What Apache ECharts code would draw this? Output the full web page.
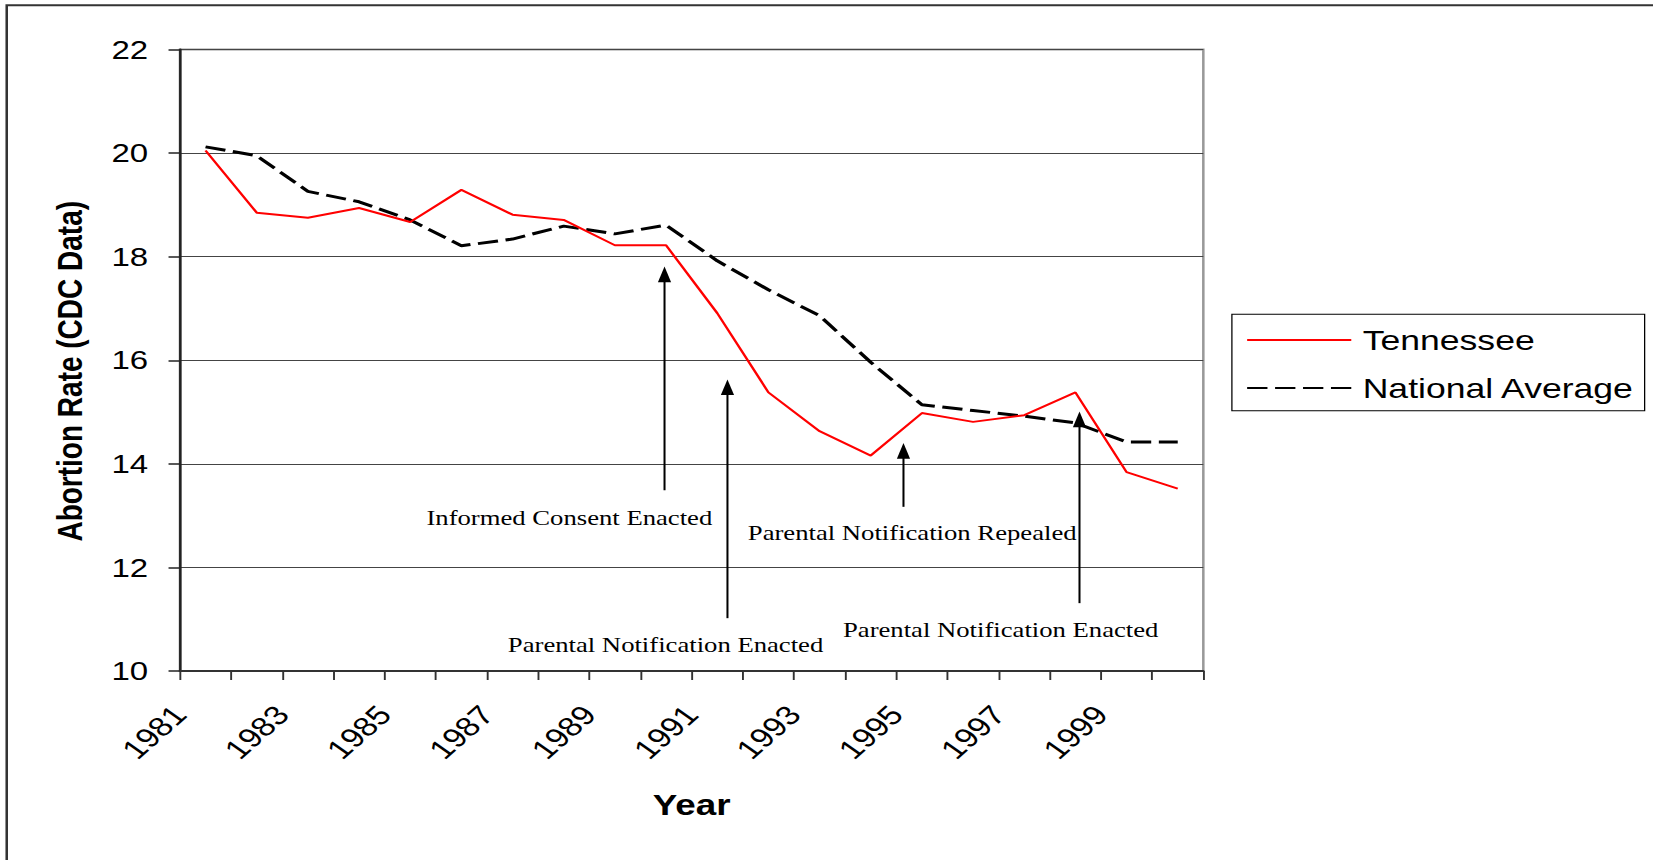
<!DOCTYPE html>
<html>
<head>
<meta charset="utf-8">
<script src="https://cdn.jsdelivr.net/npm/echarts@6/dist/echarts.min.js"></script>
<style>
  html, body { margin: 0; padding: 0; background: #fff; overflow: hidden; }
  #chart { width: 1302px; height: 860px; transform: scaleX(1.27); transform-origin: 0 0; }
</style>
</head>
<body>
<div id="chart"></div>
<script>
// ---- data ----
const years = ['1981','1982','1983','1984','1985','1986','1987','1988','1989','1990',
               '1991','1992','1993','1994','1995','1996','1997','1998','1999','2000'];
const tennessee = [20.05, 18.85, 18.75, 18.94, 18.67, 19.29, 18.81, 18.71, 18.22, 18.22,
                   16.91, 15.38, 14.63, 14.16, 14.98, 14.81, 14.94, 15.38, 13.84, 13.52];
const national  = [20.12, 19.95, 19.26, 19.06, 18.71, 18.21, 18.34, 18.59, 18.44, 18.61,
                   17.92, 17.36, 16.86, 15.96, 15.14, 15.03, 14.92, 14.79, 14.42, 14.42];
const xTickLabels = ['1981','1983','1985','1987','1989','1991','1993','1995','1997','1999'];
const yTicks = [10, 12, 14, 16, 18, 20, 22];

// annotation arrows (position along the year axis, tail value, tip value)
const arrowX    = [9.47, 10.70, 14.14, 17.58];
const arrowTail = [13.49, 11.02, 13.17, 11.31];
const arrowTip  = [17.81, 15.63, 14.40, 15.01];

// annotation texts
const annotText = ['Informed Consent Enacted', 'Parental Notification Enacted',
                   'Parental Notification Repealed', 'Parental Notification Enacted'];
const annotX = [7.61, 9.49, 14.31, 16.04];
const annotY = [12.96, 10.50, 12.66, 10.80];

const chart = echarts.init(document.getElementById('chart'), null, { renderer: 'svg' });
const sans = '"Liberation Sans", Arial, sans-serif';
const serif = '"Liberation Serif", "Times New Roman", serif';

chart.setOption({
  animation: false,
  backgroundColor: '#fff',
  graphic: [{
    type: 'rect', silent: true,
    shape: { x: 5.3, y: 5.3, width: 3000, height: 3000 },
    style: { fill: 'none', stroke: '#333', lineWidth: 2 }
  }],
  grid: {
    left: 141.7, top: 49.5, width: 805.8, height: 621.5,
    show: true, borderColor: '#999', borderWidth: 2, backgroundColor: 'transparent'
  },
  legend: {
    data: ['Tennessee', 'National Average'],
    orient: 'vertical',
    left: 970, top: 314.3,
    padding: [11.7, 7.7, 8.7, 11],
    itemWidth: 82, itemHeight: 20, itemGap: 20,
    itemStyle: { opacity: 0 },
    borderColor: '#000', borderWidth: 1,
    textStyle: { fontSize: 28, fontFamily: sans, color: '#000', lineHeight: 28, padding: [0, 0, 0, 4] }
  },
  xAxis: [
    {
      type: 'value', position: 'bottom', gridIndex: 0,
      min: 0, max: 20, interval: 1,
      axisLine: { show: true, lineStyle: { color: '#333', width: 2 } },
      axisTick: { show: true, length: 9, lineStyle: { color: '#333', width: 1.5 } },
      splitLine: { show: false },
      axisLabel: {
        rotate: 48, margin: 39, fontSize: 27, fontFamily: sans, color: '#000',
        formatter: v => (v % 2 === 0 && v / 2 < xTickLabels.length) ? xTickLabels[v / 2] : ''
      },
      name: 'Year', nameLocation: 'middle', nameGap: 119,
      nameTextStyle: { fontSize: 29, fontWeight: 'bold', fontFamily: sans, color: '#000' }
    },
    {
      type: 'category', position: 'bottom', gridIndex: 0,
      data: years, boundaryGap: true, show: false
    }
  ],
  yAxis: {
    type: 'value', min: 10, max: 22, interval: 2,
    axisLine: { show: true, lineStyle: { color: '#222', width: 2 } },
    axisTick: { show: true, length: 9, lineStyle: { color: '#222', width: 1.5 } },
    splitLine: { show: true, lineStyle: { color: '#444', width: 1 } },
    axisLabel: { margin: 25, fontSize: 26, fontFamily: sans, color: '#000' },
    name: 'Abortion Rate (CDC Data)', nameLocation: 'middle', nameRotate: 90, nameGap: 73,
    nameTextStyle: { fontSize: 28, fontWeight: 'bold', fontFamily: sans, color: '#000', padding: [0, 22, 0, 0] }
  },
  series: [
    {
      name: 'Tennessee', type: 'line', xAxisIndex: 1, yAxisIndex: 0,
      data: tennessee, symbol: 'none', z: 3,
      lineStyle: { color: '#ff0000', width: 2 },
      itemStyle: { color: '#ff0000' }
    },
    {
      name: 'National Average', type: 'line', xAxisIndex: 1, yAxisIndex: 0,
      data: national, symbol: 'none', z: 2,
      lineStyle: { color: '#000', width: 3, type: [16, 6] },
      itemStyle: { color: '#000' }
    },
    {
      name: 'arrows', type: 'custom', xAxisIndex: 0, yAxisIndex: 0, z: 4,
      data: arrowX.map((x, i) => [x, arrowTail[i], arrowTip[i]]),
      encode: { x: 0, y: [1, 2] },
      renderItem: (params, api) => {
        const x = api.value(0);
        const pTail = api.coord([x, api.value(1)]);
        const pTip = api.coord([x, api.value(2)]);
        const hw = 5.2, hh = 15.7;
        return {
          type: 'group',
          children: [
            { type: 'line', shape: { x1: pTail[0], y1: pTail[1], x2: pTip[0], y2: pTip[1] + hh - 1 },
              style: { stroke: '#000', lineWidth: 1.6 } },
            { type: 'polygon', shape: { points: [[pTip[0], pTip[1]], [pTip[0] - hw, pTip[1] + hh], [pTip[0] + hw, pTip[1] + hh]] },
              style: { fill: '#000' } }
          ]
        };
      }
    },
    {
      name: 'notes', type: 'custom', xAxisIndex: 0, yAxisIndex: 0, z: 4,
      data: annotX.map((x, i) => [x, annotY[i]]),
      encode: { x: 0, y: 1 },
      renderItem: (params, api) => {
        const p = api.coord([api.value(0), api.value(1)]);
        return {
          type: 'text', x: p[0], y: p[1],
          style: { text: annotText[params.dataIndex], font: '21px ' + serif, fill: '#000', align: 'center', verticalAlign: 'middle' }
        };
      }
    }
  ]
});
</script>
</body>
</html>
